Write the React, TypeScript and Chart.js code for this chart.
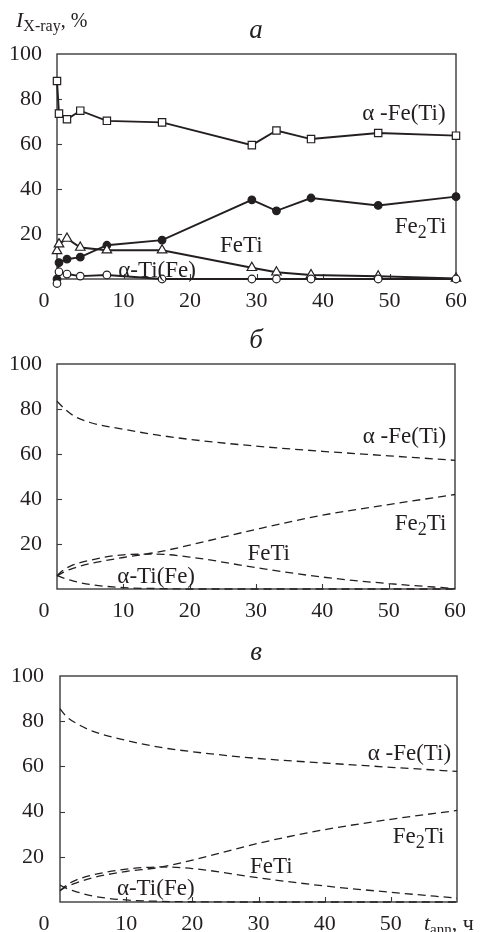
import React, { useEffect, useRef } from 'react';
import { Chart, registerables } from 'chart.js';

Chart.register(...registerables);

const FONT = '"Liberation Serif", "Times New Roman", Times, serif';
const INK = '#231f20';
const BOX = '#3a3a3a';

// ---- panel а : measured points ----
const timesA = [0, 0.3, 1.5, 3.5, 7.5, 15.8, 29.3, 33, 38.2, 48.3, 60];
const alphaFeA = [88, 73.5, 71, 74.8, 70.3, 69.6, 59.5, 66, 62.2, 64.9, 63.7];
const fe2TiA = [0, 7.3, 8.8, 9.7, 15, 17.3, 35.2, 30.3, 36, 32.7, 36.6];
const feTiA = [12.5, 15.5, 18, 14, 12.8, 12.8, 5, 3, 1.8, 1.2, 0.3];
const alphaTiA = [-2, 3.2, 2.2, 1.3, 1.8, 0, 0, 0, 0, 0, 0];

// ---- panel б : model curve ----
const timesB = [0, 1, 2.5, 5, 10, 15, 20, 30, 40, 50, 60];
const alphaFeB = [83.5, 80.5, 77, 74, 71, 68.5, 66.5, 63.5, 61.2, 59.2, 57.2];
const fe2TiB = [5.8, 7.5, 9.3, 11.3, 14, 16.3, 19.5, 26.5, 32.8, 37.5, 42];
const feTiB = [6, 8.5, 10.8, 12.8, 15.2, 15.5, 14.2, 9.5, 5.3, 2.4, 0.2];
const alphaTiB = [6, 4.8, 3.5, 2, 0.6, 0.2, 0, 0, 0, 0, 0];

// ---- panel в : model curve ----
const timesC = [0, 1, 2.5, 5, 10, 15, 20, 30, 40, 50, 60];
const alphaFeC = [85.5, 82, 79, 75.5, 71.5, 68.5, 66.5, 63.5, 61.5, 59.6, 57.8];
const fe2TiC = [5, 6.8, 8.5, 10.8, 13.5, 15.3, 18.5, 26, 32, 36.6, 40.5];
const feTiC = [5, 7.5, 9.8, 12, 14.5, 15.5, 14.8, 10.7, 7.1, 4.3, 1.7];
const alphaTiC = [7.5, 6, 4.5, 2.6, 0.9, 0.3, 0.1, 0, 0, 0, 0];

const xMin = 0;
const xMax = 60;
const xStep = 10;
const yMin = 0;
const yMax = 100;
const yStep = 20;

type Part = { t: string; size?: number; italic?: boolean; dy?: number };
type Note = { x: number; y: number; parts: Part[] };

const lblAlphaFe: Part[] = [{ t: 'α' }, { t: ' -Fe(Ti)' }];
const lblFe2Ti: Part[] = [{ t: 'Fe' }, { t: '2', size: 18, dy: 5 }, { t: 'Ti' }];
const lblFeTi: Part[] = [{ t: 'FeTi' }];
const lblAlphaTi: Part[] = [{ t: 'α' }, { t: '-Ti(Fe)' }];

function drawParts(ctx: CanvasRenderingContext2D, x: number, y: number, parts: Part[], base = 23) {
  let cx = x;
  for (const p of parts) {
    const size = p.size ?? base;
    ctx.font = `${p.italic ? 'italic ' : ''}${size}px ${FONT}`;
    ctx.fillText(p.t, cx, y + (p.dy ?? 0));
    cx += ctx.measureText(p.t).width;
  }
}

type Series = { xs: number[]; ys: number[]; style: any };

type Spec = {
  top: number;
  height: number;
  yW: number;
  xH: number;
  padTop: number;
  padRight: number;
  yPad: number;
  title: string;
  titleY: number;
  series: Series[];
  notes: Note[];
  yTitle?: boolean;
  xTitle?: boolean;
};

function makeDeco(spec: Spec) {
  return {
    id: 'deco',
    beforeDatasetsDraw(chart: any) {
      const { ctx, chartArea: a, scales } = chart;
      ctx.save();
      ctx.strokeStyle = BOX;
      ctx.lineWidth = 1.4;
      ctx.strokeRect(a.left, a.top, a.right - a.left, a.bottom - a.top);
      ctx.lineWidth = 1.1;
      for (let v = xMin + xStep; v < xMax; v += xStep) {
        const px = Math.round(scales.x.getPixelForValue(v)) + 0.5;
        ctx.beginPath();
        ctx.moveTo(px, a.bottom);
        ctx.lineTo(px, a.bottom - 5);
        ctx.stroke();
      }
      for (let v = yMin + yStep; v < yMax; v += yStep) {
        const py = Math.round(scales.y.getPixelForValue(v)) + 0.5;
        ctx.beginPath();
        ctx.moveTo(a.left, py);
        ctx.lineTo(a.left + 5, py);
        ctx.stroke();
      }
      ctx.restore();
    },
    afterDatasetsDraw(chart: any) {
      const { ctx, chartArea: a, scales } = chart;
      ctx.save();
      ctx.fillStyle = INK;
      ctx.textBaseline = 'alphabetic';
      ctx.textAlign = 'left';
      for (const n of spec.notes) {
        drawParts(ctx, scales.x.getPixelForValue(n.x), scales.y.getPixelForValue(n.y), n.parts);
      }
      // panel title
      ctx.textAlign = 'center';
      ctx.font = `italic 27px ${FONT}`;
      ctx.fillText(spec.title, 256, spec.titleY);
      // corner zero
      const base = a.bottom + 28;
      ctx.font = `22px ${FONT}`;
      ctx.fillText('0', 44, base);
      ctx.textAlign = 'left';
      if (spec.yTitle) {
        drawParts(ctx, 16, 27, [
          { t: 'I', italic: true, size: 22 },
          { t: 'X-ray', size: 16, dy: 4 },
          { t: ', %', size: 20 },
        ]);
      }
      if (spec.xTitle) {
        drawParts(ctx, 424, base, [
          { t: 't', italic: true, size: 22 },
          { t: 'ann', size: 15, dy: 4 },
          { t: ', ч', size: 22 },
        ]);
      }
      ctx.restore();
    },
  };
}

function buildConfig(spec: Spec): any {
  return {
    type: 'line',
    data: {
      datasets: spec.series.map((s) => ({
        data: s.xs.map((x, i) => ({ x, y: s.ys[i] })),
        fill: false,
        clip: false,
        ...s.style,
      })),
    },
    options: {
      animation: false,
      responsive: false,
      maintainAspectRatio: false,
      events: [],
      layout: { padding: { top: spec.padTop, right: spec.padRight, left: 0, bottom: 0 } },
      plugins: { legend: { display: false }, tooltip: { enabled: false }, title: { display: false } },
      scales: {
        x: {
          type: 'linear',
          min: xMin,
          max: xMax,
          grid: { display: false },
          border: { display: false },
          ticks: {
            stepSize: xStep,
            autoSkip: false,
            maxRotation: 0,
            padding: 1,
            color: INK,
            font: { family: FONT, size: 22 },
            callback: (v: number) => (v === 0 || (spec.xTitle && v === 60) ? '' : String(v)),
          },
          afterFit: (s: any) => {
            s.height = spec.xH;
          },
        },
        y: {
          type: 'linear',
          min: yMin,
          max: yMax,
          grid: { display: false },
          border: { display: false },
          ticks: {
            stepSize: yStep,
            padding: spec.yPad,
            color: INK,
            font: { family: FONT, size: 22 },
            callback: (v: number) => (v === 0 ? '' : String(v)),
          },
          afterFit: (s: any) => {
            s.width = spec.yW;
          },
        },
      },
    },
    plugins: [makeDeco(spec)],
  };
}

const solid = { borderColor: INK, borderWidth: 1.9, tension: 0, pointBorderColor: INK, pointBorderWidth: 1.2 };
const dashed = {
  borderColor: INK,
  borderWidth: 1.3,
  borderDash: [8, 5],
  pointRadius: 0,
  cubicInterpolationMode: 'monotone',
};

const specs: Spec[] = [
  {
    top: 0,
    height: 310,
    yW: 57,
    xH: 31,
    padTop: 54,
    padRight: 25,
    yPad: 7,
    title: 'а',
    titleY: 38,
    yTitle: true,
    series: [
      { xs: timesA, ys: alphaTiA, style: { ...solid, pointStyle: 'circle', pointRadius: 3.8, pointBackgroundColor: '#fff' } },
      { xs: timesA, ys: feTiA, style: { ...solid, pointStyle: 'triangle', pointRadius: 5.5, pointBackgroundColor: '#fff' } },
      { xs: timesA, ys: fe2TiA, style: { ...solid, pointStyle: 'circle', pointRadius: 3.8, pointBackgroundColor: INK } },
      { xs: timesA, ys: alphaFeA, style: { ...solid, pointStyle: 'rect', pointRadius: 5.2, pointBackgroundColor: '#fff' } },
    ],
    notes: [
      { x: 45.9, y: 70.7, parts: lblAlphaFe },
      { x: 50.8, y: 20.6, parts: lblFe2Ti },
      { x: 24.5, y: 12.1, parts: lblFeTi },
      { x: 9.2, y: 1.0, parts: lblAlphaTi },
    ],
  },
  {
    top: 310,
    height: 310,
    yW: 57,
    xH: 31,
    padTop: 54,
    padRight: 26,
    yPad: 7,
    title: 'б',
    titleY: 38,
    series: [
      { xs: timesB, ys: alphaFeB, style: dashed },
      { xs: timesB, ys: fe2TiB, style: dashed },
      { xs: timesB, ys: feTiB, style: dashed },
      { xs: timesB, ys: alphaTiB, style: dashed },
    ],
    notes: [
      { x: 46.1, y: 64.9, parts: lblAlphaFe },
      { x: 50.9, y: 26.4, parts: lblFe2Ti },
      { x: 28.7, y: 13.0, parts: lblFeTi },
      { x: 9.1, y: 2.7, parts: lblAlphaTi },
    ],
  },
  {
    top: 620,
    height: 312,
    yW: 60,
    xH: 30,
    padTop: 56,
    padRight: 24,
    yPad: 8,
    title: 'в',
    titleY: 40,
    xTitle: true,
    series: [
      { xs: timesC, ys: alphaFeC, style: dashed },
      { xs: timesC, ys: fe2TiC, style: dashed },
      { xs: timesC, ys: feTiC, style: dashed },
      { xs: timesC, ys: alphaTiC, style: dashed },
    ],
    notes: [
      { x: 46.5, y: 62.8, parts: lblAlphaFe },
      { x: 50.3, y: 26.1, parts: lblFe2Ti },
      { x: 28.7, y: 12.9, parts: lblFeTi },
      { x: 8.6, y: 3.3, parts: lblAlphaTi },
    ],
  },
];

function Panel({ spec }: { spec: Spec }) {
  const ref = useRef<HTMLCanvasElement>(null);
  useEffect(() => {
    const chart = new Chart(ref.current as HTMLCanvasElement, buildConfig(spec));
    return () => chart.destroy();
  }, [spec]);
  return (
    <canvas
      ref={ref}
      width={481}
      height={spec.height}
      style={{ position: 'absolute', left: 0, top: spec.top, width: 481, height: spec.height, display: 'block' }}
    />
  );
}

export default function App() {
  return (
    <div style={{ position: 'absolute', left: 0, top: 0, width: 481, height: 932, background: '#fff', overflow: 'hidden' }}>
      {specs.map((s, i) => (
        <Panel key={i} spec={s} />
      ))}
    </div>
  );
}
